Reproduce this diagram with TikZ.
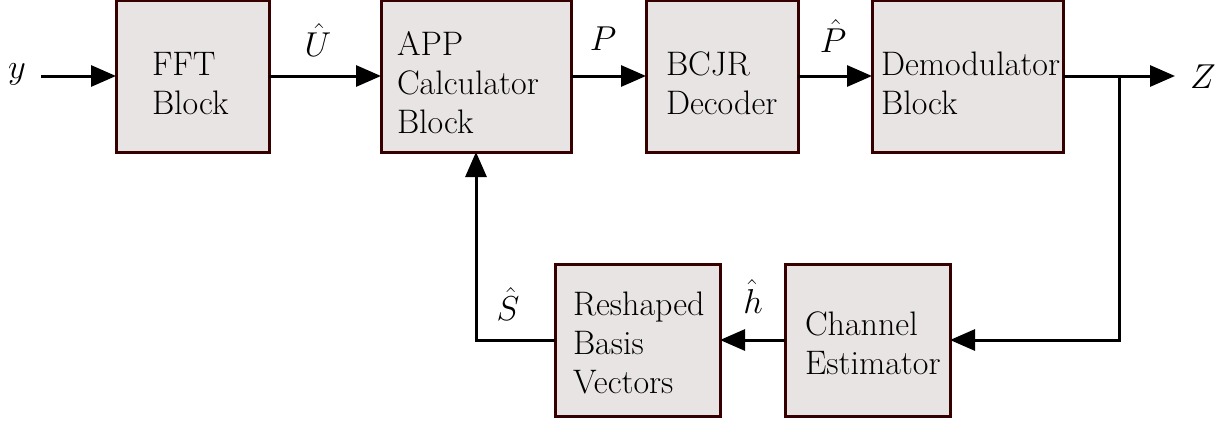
\documentclass[tikz,border=0pt]{standalone}
\usetikzlibrary{arrows.meta}
\definecolor{boxfill}{RGB}{232,228,228}
\definecolor{boxdraw}{RGB}{55,0,0}
\newcommand\toppad[1]{\rule{0pt}{#1}}
\begin{document}
\begin{tikzpicture}[x=0.5pt,y=-0.5pt,
  font=\fontsize{17}{19.5}\selectfont,
  blk/.style={draw=boxdraw, fill=boxfill, line width=1.5pt, anchor=north west,
    minimum height=76pt, align=left, outer sep=0pt},
  conn/.style={line width=1.5pt, -{Triangle[length=12.5pt,width=10.5pt]}},
  lbl/.style={anchor=base, inner sep=0pt}]
\useasboundingbox (0,0) rectangle (1229,423);
% upper row
\node[blk, minimum width=76.5pt, inner xsep=18pt, text width=40.5pt] (fft) at (116,0) {\toppad{19pt}FFT\\Block};
\node[blk, minimum width=95pt, inner xsep=8pt, text width=79pt] (app) at (381,0) {\toppad{19pt}APP\\Calculator\\Block};
\node[blk, minimum width=76pt, inner xsep=10pt, text width=56pt] (bcjr) at (646,0) {\toppad{19pt}BCJR\\Decoder};
\node[blk, minimum width=95.5pt, inner xsep=4.5pt, text width=86.5pt] (dem) at (872,0) {\toppad{19pt}Demodulator\\Block};
% lower row
\node[blk, minimum width=82.5pt, inner xsep=9pt, text width=64.5pt] (resh) at (555,264) {\toppad{15pt}Reshaped\\Basis\\Vectors};
\node[blk, minimum width=82.5pt, inner xsep=10pt, text width=62.5pt] (chan) at (785,264) {\toppad{15pt}Channel\\Estimator};
% coordinates
\coordinate (yin) at (41,76);
\coordinate (br) at (1119,76);
\coordinate (zout) at (1175,76);
% labels
\node[lbl] (ylab) at (17,78) {$y$};
\node[lbl] (ulab) at (318,56) {$\hat{U}$};
\node[lbl] (plab) at (603,50) {$P$};
\node[lbl] (phlab) at (833,52) {$\hat{P}$};
\node[lbl] (zlab) at (1203,88) {$Z$};
\node[lbl] (slab) at (508,320) {$\hat{S}$};
\node[lbl] (hlab) at (753,313) {$\hat{h}$};
% connectors
\draw[conn] (yin) -- (fft.west);
\draw[conn] (fft.east) -- (app.west);
\draw[conn] (app.east) -- (bcjr.west);
\draw[conn] (bcjr.east) -- (dem.west);
\draw[conn] (dem.east) -- (zout);
\draw[conn] (br) |- (chan.east);
\draw[conn] (chan.west) -- (resh.east);
\draw[conn] (resh.west) -| (app.south);
\end{tikzpicture}
\end{document}
